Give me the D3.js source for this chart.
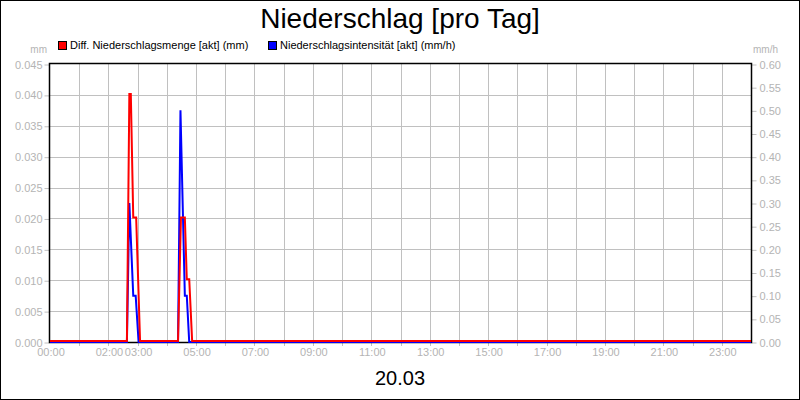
<!DOCTYPE html>
<html>
<head>
<meta charset="utf-8">
<script src="https://cdn.jsdelivr.net/npm/d3@7"></script>
<style>
  body { margin: 0; background: #fff; }
  svg { display: block; font-family: "Liberation Sans", Arial, sans-serif; }
</style>
</head>
<body>
<svg id="chart" width="800" height="400"></svg>
<script>
const title = "Niederschlag [pro Tag]";
const dayLabel = "20.03";
const seriesNames = ["Diff. Niederschlagsmenge [akt] (mm)", "Niederschlagsintensität [akt] (mm/h)"];
const seriesColors = ["#ff0000", "#0000ff"];

// time of day (HH:MM) and value
const mengeTimes = ["00:00", "02:38", "02:43", "02:46", "02:51", "02:57", "03:05", "04:23", "04:29", "04:37", "04:41", "04:46", "04:52", "24:00"];
const mengeValues = [0, 0, 0.040, 0.040, 0.020, 0.020, 0, 0, 0.020, 0.020, 0.010, 0.010, 0, 0];

const intensTimes = ["00:00", "02:38", "02:43", "02:51", "02:56", "03:02", "04:23", "04:28", "04:37", "04:41", "04:46", "24:00"];
const intensValues = [0, 0, 0.30, 0.10, 0.10, 0, 0, 0.50, 0.10, 0.10, 0, 0];

const xTickLabels = ["00:00", "02:00", "03:00", "05:00", "07:00", "09:00", "11:00", "13:00", "15:00", "17:00", "19:00", "21:00", "23:00"];
const leftTicks = [0, 0.005, 0.010, 0.015, 0.020, 0.025, 0.030, 0.035, 0.040, 0.045];
const rightTicks = [0, 0.05, 0.10, 0.15, 0.20, 0.25, 0.30, 0.35, 0.40, 0.45, 0.50, 0.55, 0.60];

const M = { left: 50, right: 751, top: 64, bottom: 342 };
const gridColor = "#c0c0c0";
const labelColor = "#b4b4b4";

const toMin = s => { const [h, m] = s.split(":").map(Number); return h * 60 + m; };

const svg = d3.select("#chart");

const x = d3.scaleLinear().domain([0, 1440]).range([M.left, M.right]);
const yL = d3.scaleLinear().domain([0, 0.045]).range([M.bottom, M.top]);
const yR = d3.scaleLinear().domain([0, 0.60]).range([M.bottom, M.top]);

// outer frame
svg.append("rect")
    .attr("x", 0.5).attr("y", 0.5).attr("width", 799).attr("height", 399)
    .attr("fill", "#fff").attr("stroke", "#000");

// grid
const hours = d3.range(1, 24).map(h => h * 60);
svg.append("g").selectAll("line").data(hours).join("line")
    .attr("x1", d => Math.round(x(d)) + 0.5).attr("x2", d => Math.round(x(d)) + 0.5)
    .attr("y1", M.top).attr("y2", M.bottom + 4)
    .attr("stroke", gridColor);
svg.append("g").selectAll("line").data(leftTicks.slice(1, -1)).join("line")
    .attr("x1", M.left).attr("x2", M.right)
    .attr("y1", d => Math.round(yL(d)) + 0.5).attr("y2", d => Math.round(yL(d)) + 0.5)
    .attr("stroke", gridColor);

// axes
const axisStyle = g => {
    g.select(".domain").remove();
    g.selectAll(".tick line").attr("stroke", gridColor);
    g.selectAll(".tick text").attr("fill", labelColor).attr("font-size", 11);
};

svg.append("g")
    .attr("transform", `translate(${M.left - 0.5},0.5)`)
    .call(d3.axisLeft(yL).tickValues(leftTicks).tickSize(5).tickPadding(2).tickFormat(d3.format(".3f")))
    .call(axisStyle);

svg.append("g")
    .attr("transform", `translate(${M.right + 0.5},0.5)`)
    .call(d3.axisRight(yR).tickValues(rightTicks).tickSize(5).tickPadding(3).tickFormat(d3.format(".2f")))
    .call(axisStyle);

svg.append("g")
    .attr("transform", `translate(0.5,${M.bottom})`)
    .call(d3.axisBottom(x).tickValues(xTickLabels.map(toMin)).tickSize(0).tickPadding(6)
        .tickFormat((d, i) => xTickLabels[i]))
    .call(axisStyle);

// plot border
svg.append("rect")
    .attr("x", M.left - 0.5).attr("y", M.top - 0.5)
    .attr("width", M.right - M.left + 1).attr("height", M.bottom - M.top + 1)
    .attr("fill", "none").attr("stroke", "#000").attr("stroke-width", 1.5);

// series
const intensData = intensTimes.map((t, i) => ({ t: toMin(t), v: intensValues[i] }));
const mengeData = mengeTimes.map((t, i) => ({ t: toMin(t), v: mengeValues[i] }));

svg.append("path").datum(intensData)
    .attr("fill", "none").attr("stroke", seriesColors[1]).attr("stroke-width", 2)
    .attr("d", d3.line().x(d => x(d.t)).y(d => yR(d.v)));

svg.append("path").datum(mengeData)
    .attr("fill", "none").attr("stroke", seriesColors[0]).attr("stroke-width", 2)
    .attr("d", d3.line().x(d => x(d.t)).y(d => yL(d.v) - 1));

// units
svg.append("text").attr("x", 47).attr("y", 53).attr("text-anchor", "end")
    .attr("font-size", 10).attr("fill", labelColor).text("mm");
svg.append("text").attr("x", 753).attr("y", 53)
    .attr("font-size", 10).attr("fill", labelColor).text("mm/h");

// legend
const legendX = [58, 268];
const legend = svg.append("g").selectAll("g").data(seriesNames).join("g")
    .attr("transform", (d, i) => `translate(${legendX[i]},41)`);
legend.append("rect")
    .attr("x", 0.5).attr("y", 0.5).attr("width", 8).attr("height", 8)
    .attr("fill", (d, i) => seriesColors[i]).attr("stroke", "#000");
legend.append("text")
    .attr("x", 12).attr("y", 8).attr("font-size", 11).attr("fill", "#000")
    .text(d => d);

// title and day label
svg.append("text").attr("x", 400).attr("y", 28).attr("text-anchor", "middle")
    .attr("font-size", 28).attr("fill", "#000").text(title);
svg.append("text").attr("x", 400).attr("y", 385).attr("text-anchor", "middle")
    .attr("font-size", 20).attr("fill", "#000").text(dayLabel);
</script>
</body>
</html>
